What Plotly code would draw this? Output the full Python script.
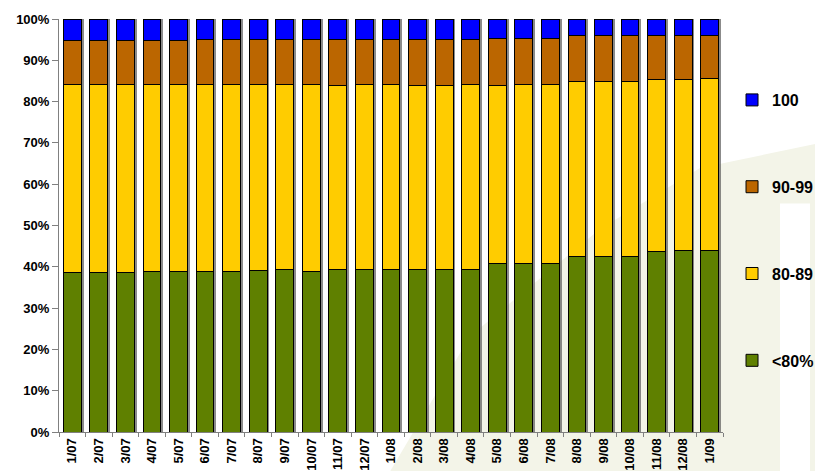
import plotly.graph_objects as go

# miesiące
months = ['1/07', '2/07', '3/07', '4/07', '5/07', '6/07', '7/07', '8/07', '9/07',
          '10/07', '11/07', '12/07', '1/08', '2/08', '3/08', '4/08', '5/08', '6/08',
          '7/08', '8/08', '9/08', '10/08', '11/08', '12/08', '1/09']

# udziały w procentach
below80 = [38.7, 38.7, 38.7, 38.9, 38.9, 38.9, 38.9, 39.2, 39.3, 38.9, 39.3, 39.3, 39.3,
           39.3, 39.3, 39.3, 40.7, 40.7, 40.7, 42.4, 42.6, 42.6, 43.6, 43.9, 43.9]
r80_89 = [45.4, 45.4, 45.4, 45.2, 45.2, 45.2, 45.2, 44.9, 44.8, 45.2, 44.6, 44.8, 44.8,
          44.6, 44.6, 44.8, 43.2, 43.4, 43.4, 42.5, 42.3, 42.3, 41.7, 41.4, 41.7]
r90_99 = [10.8, 10.8, 10.8, 10.8, 10.8, 11.0, 11.0, 11.0, 11.0, 11.0, 11.2, 11.0, 11.0,
          11.2, 11.2, 11.0, 11.5, 11.3, 11.3, 11.0, 11.0, 11.0, 10.8, 10.8, 10.5]
r100 = [5.1, 5.1, 5.1, 5.1, 5.1, 4.9, 4.9, 4.9, 4.9, 4.9, 4.9, 4.9, 4.9,
        4.9, 4.9, 4.9, 4.6, 4.6, 4.6, 4.1, 4.1, 4.1, 3.9, 3.9, 3.9]

series = [('<80%', below80, '#5f8000', 4),
          ('80-89', r80_89, '#ffcc00', 3),
          ('90-99', r90_99, '#bb6600', 2),
          ('100', r100, '#0000ff', 1)]

fig = go.Figure()

# cień słupków (oś x), słupki na osi x2 nałożonej na x
fig.add_trace(go.Bar(x=months, y=[100] * len(months), width=0.67, offset=-0.335 + 0.09,
                     marker=dict(color='rgba(90,90,90,0.7)', line=dict(width=0)),
                     showlegend=False, hoverinfo='skip'))
for name, vals, col, rank in series:
    fig.add_trace(go.Bar(x=months, y=vals, name=name, legendgroup=name, legendrank=rank,
                         xaxis='x2',
                         marker=dict(color=col, line=dict(color='black', width=1))))

# tło - jasny znak wodny w prawym dolnym rogu
def px(x, y):
    return (x - 59) / 664, (424 - y) / 405

pts = [px(385, 471), px(470, 330), px(600, 225), px(700, 165), px(823, 140), px(823, 471)]
path = 'M ' + ' L '.join(f'{a:.4f},{b:.4f}' for a, b in pts) + ' Z'
shapes = [dict(type='path', path=path, xref='paper', yref='paper', layer='below',
               fillcolor='#f3f4e8', line=dict(width=0))]
a0, b0 = px(780, 471)
a1, b1 = px(810, 200)
shapes.append(dict(type='rect', x0=a0, x1=a1, y0=b0, y1=b1, xref='paper', yref='paper',
                   layer='below', fillcolor='white', line=dict(width=0)))

# strona ma margines 8 px, więc wymiary pomniejszone
fig.update_layout(
    width=815, height=463,
    barmode='stack', barnorm='percent', bargap=0.33,
    margin=dict(l=51, r=100, t=11, b=39, autoexpand=False),
    paper_bgcolor='white', plot_bgcolor='rgba(0,0,0,0)',
    font=dict(family='Liberation Sans, Arial', color='black'),
    shapes=shapes,
    legend=dict(x=1.0136, y=0.845, xanchor='left', yanchor='top',
                traceorder='grouped', tracegroupgap=63,
                font=dict(size=16, weight='bold'), bgcolor='rgba(0,0,0,0)'),
    xaxis=dict(
        tickangle=-90, tickfont=dict(size=13, weight='bold'),
        showline=True, linecolor='#808080', linewidth=1,
        ticks='outside', tickson='boundaries', ticklen=4, tickcolor='#808080',
        showgrid=False, range=[-0.5, 24.5]),
    xaxis2=dict(overlaying='x', visible=False, range=[-0.5, 24.5]),
)

fig.update_yaxes(
    range=[0, 100], dtick=10, ticksuffix='%',
    tickfont=dict(size=13, weight='bold'),
    showline=True, linecolor='#808080', linewidth=1,
    ticks='outside', ticklen=6, tickcolor='#808080',
    showgrid=False, zeroline=False)

fig.write_html("out.html")
